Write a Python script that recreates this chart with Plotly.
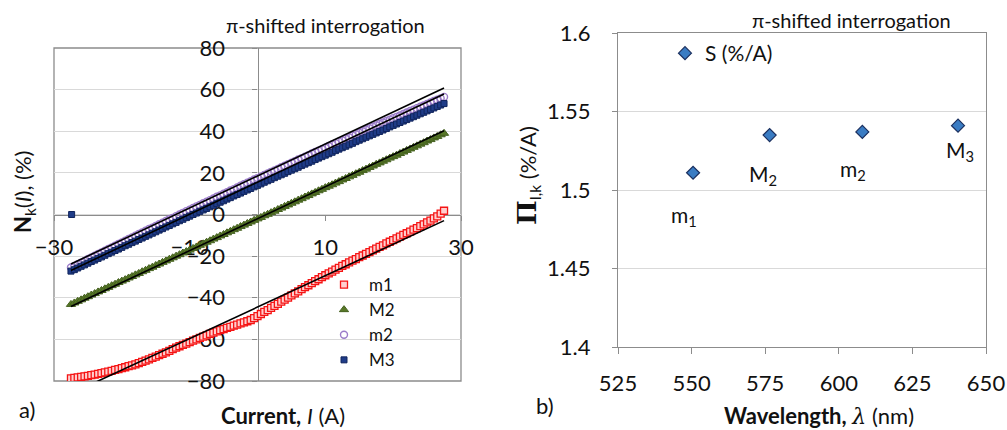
import plotly.graph_objects as go

# ---- panel a) normalised response versus bias current ----
current = [
    -27.5, -27.0, -26.5, -26.0, -25.5, -25.0, -24.5, -24.0, -23.5, -23.0,
    -22.5, -22.0, -21.5, -21.0, -20.5, -20.0, -19.5, -19.0, -18.5, -18.0,
    -17.5, -17.0, -16.5, -16.0, -15.5, -15.0, -14.5, -14.0, -13.5, -13.0,
    -12.5, -12.0, -11.5, -11.0, -10.5, -10.0, -9.5, -9.0, -8.5, -8.0,
    -7.5, -7.0, -6.5, -6.0, -5.5, -5.0, -4.5, -4.0, -3.5, -3.0,
    -2.5, -2.0, -1.5, -1.0, -0.5, 0.0, 0.5, 1.0, 1.5, 2.0,
    2.5, 3.0, 3.5, 4.0, 4.5, 5.0, 5.5, 6.0, 6.5, 7.0,
    7.5, 8.0, 8.5, 9.0, 9.5, 10.0, 10.5, 11.0, 11.5, 12.0,
    12.5, 13.0, 13.5, 14.0, 14.5, 15.0, 15.5, 16.0, 16.5, 17.0,
    17.5, 18.0, 18.5, 19.0, 19.5, 20.0, 20.5, 21.0, 21.5, 22.0,
    22.5, 23.0, 23.5, 24.0, 24.5, 25.0, 25.5, 26.0, 26.5, 27.0,
    27.5,
]

n_m1 = [
    -78.7, -78.5, -78.3, -78.0, -77.8, -77.5, -77.2, -76.9, -76.6, -76.2,
    -75.9, -75.5, -75.1, -74.7, -74.3, -73.8, -73.4, -72.9, -72.5, -72.0,
    -71.4, -70.8, -70.2, -69.6, -68.9, -68.3, -67.6, -66.9, -66.2, -65.5,
    -64.7, -64.0, -63.3, -62.6, -62.0, -61.3, -60.6, -60.0, -59.3, -58.7,
    -58.1, -57.4, -56.8, -56.2, -55.6, -55.1, -54.5, -54.0, -53.4, -52.9,
    -52.3, -51.8, -51.3, -50.7, -49.8, -48.8, -47.8, -46.8, -45.9, -44.9,
    -43.9, -42.9, -41.9, -40.9, -39.9, -38.9, -37.9, -36.9, -35.9, -34.9,
    -34.0, -33.0, -32.0, -31.1, -30.1, -29.2, -28.3, -27.4, -26.5, -25.6,
    -24.7, -23.9, -23.0, -22.2, -21.4, -20.5, -19.7, -18.9, -18.1, -17.2,
    -16.4, -15.6, -14.8, -13.9, -13.1, -12.3, -11.5, -10.6, -9.8, -9.0,
    -8.2, -7.3, -6.5, -5.6, -4.7, -3.8, -2.9, -1.9, -0.9, 0.4,
    1.8,
]

n_M2 = [
    -43.2, -42.5, -41.7, -41.0, -40.2, -39.5, -38.7, -38.0, -37.2, -36.5,
    -35.7, -35.0, -34.2, -33.5, -32.7, -32.0, -31.3, -30.5, -29.8, -29.0,
    -28.3, -27.5, -26.8, -26.0, -25.3, -24.5, -23.8, -23.0, -22.3, -21.5,
    -20.8, -20.0, -19.3, -18.5, -17.8, -17.1, -16.3, -15.6, -14.8, -14.1,
    -13.3, -12.6, -11.8, -11.1, -10.3, -9.6, -8.8, -8.1, -7.3, -6.6,
    -5.8, -5.1, -4.3, -3.6, -2.8, -2.1, -1.4, -0.6, 0.1, 0.9,
    1.6, 2.4, 3.1, 3.9, 4.6, 5.4, 6.1, 6.9, 7.6, 8.4,
    9.1, 9.9, 10.6, 11.4, 12.1, 12.9, 13.6, 14.3, 15.1, 15.8,
    16.6, 17.3, 18.1, 18.8, 19.6, 20.3, 21.1, 21.8, 22.6, 23.3,
    24.1, 24.8, 25.6, 26.3, 27.1, 27.8, 28.5, 29.3, 30.0, 30.8,
    31.5, 32.3, 33.0, 33.8, 34.5, 35.3, 36.0, 36.8, 37.5, 38.3,
    39.0,
]

n_m2 = [
    -25.5, -24.7, -23.9, -23.1, -22.3, -21.4, -20.6, -19.8, -19.0, -18.2,
    -17.4, -16.6, -15.8, -15.0, -14.2, -13.4, -12.6, -11.8, -11.0, -10.2,
    -9.4, -8.6, -7.8, -7.0, -6.3, -5.5, -4.7, -3.9, -3.1, -2.3,
    -1.6, -0.8, 0.0, 0.8, 1.6, 2.3, 3.1, 3.9, 4.6, 5.4,
    6.2, 6.9, 7.7, 8.5, 9.2, 10.0, 10.7, 11.5, 12.2, 13.0,
    13.8, 14.5, 15.3, 16.0, 16.8, 17.5, 18.2, 19.0, 19.7, 20.5,
    21.2, 21.9, 22.7, 23.4, 24.2, 24.9, 25.6, 26.4, 27.1, 27.8,
    28.5, 29.3, 30.0, 30.7, 31.4, 32.1, 32.9, 33.6, 34.3, 35.0,
    35.7, 36.4, 37.1, 37.9, 38.6, 39.3, 40.0, 40.7, 41.4, 42.1,
    42.8, 43.5, 44.2, 44.9, 45.6, 46.3, 46.9, 47.6, 48.3, 49.0,
    49.7, 50.4, 51.1, 51.8, 52.4, 53.1, 53.8, 54.5, 55.1, 55.8,
    56.5,
]

n_M3 = [
    -27.2, -26.5, -25.7, -24.9, -24.2, -23.4, -22.6, -21.9, -21.1, -20.4,
    -19.6, -18.8, -18.1, -17.3, -16.6, -15.8, -15.0, -14.3, -13.5, -12.8,
    -12.0, -11.3, -10.5, -9.8, -9.0, -8.3, -7.5, -6.8, -6.0, -5.3,
    -4.5, -3.8, -3.0, -2.3, -1.5, -0.8, 0.0, 0.7, 1.5, 2.2,
    2.9, 3.7, 4.4, 5.2, 5.9, 6.6, 7.4, 8.1, 8.9, 9.6,
    10.3, 11.1, 11.8, 12.5, 13.3, 14.0, 14.7, 15.5, 16.2, 16.9,
    17.7, 18.4, 19.1, 19.8, 20.6, 21.3, 22.0, 22.7, 23.5, 24.2,
    24.9, 25.6, 26.4, 27.1, 27.8, 28.5, 29.2, 29.9, 30.7, 31.4,
    32.1, 32.8, 33.5, 34.2, 35.0, 35.7, 36.4, 37.1, 37.8, 38.5,
    39.2, 39.9, 40.6, 41.3, 42.1, 42.8, 43.5, 44.2, 44.9, 45.6,
    46.3, 47.0, 47.7, 48.4, 49.1, 49.8, 50.5, 51.2, 51.9, 52.6,
    53.3,
]

# single spurious M3 reading at the start of the sweep
m3_glitch_current = [-27.4]
m3_glitch_value = [0.0]

# linear-fit intercepts (%); the slopes are the sensitivities of panel b)
fit_intercepts = [-44.5, -2.0, 18.5, 15.5]

# ---- panel b) sensitivity versus wavelength ----
wavelength = [550.5, 576.5, 608.0, 640.5]
sensitivity = [1.511, 1.535, 1.537, 1.541]
point_labels = ["m<sub>1</sub>", "M<sub>2</sub>", "m<sub>2</sub>", "M<sub>3</sub>"]
label_shift = [(-9, -43), (-7, -40), (-9, -38), (2, -25)]

series_names = ["m1", "M2", "m2", "M3"]

W, H = 1007, 430
FONT = "Lato"
SERIF = "DejaVu Serif"
GRID = "#D9D9D9"
AXIS = "#8C8C8C"


def px_x(p):
    return p / W


def px_y(p):
    return 1 - p / H


xa_dom = [px_x(54), px_x(461)]
ya_dom = [px_y(381), px_y(48)]
xb_dom = [px_x(618), px_x(986)]
yb_dom = [px_y(347), px_y(33)]

fig = go.Figure()

marker_styles = [
    dict(symbol="square", size=7, color="#FFCFCF", line=dict(color="#F51414", width=1.3)),
    dict(symbol="triangle-up", size=8, color="#587828", line=dict(color="#44601E", width=1)),
    dict(symbol="circle-open", size=7, color="#9B7CC9", line=dict(width=1.4)),
    dict(symbol="square", size=6, color="#1F3C88", line=dict(color="#10245C", width=1)),
]

series_values = [n_m1, n_M2, n_m2, n_M3]
for name, vals, mk in zip(series_names, series_values, marker_styles):
    xs = list(current)
    ys = list(vals)
    if name == "M3":
        xs = m3_glitch_current + xs
        ys = m3_glitch_value + ys
    fig.add_trace(go.Scatter(
        x=xs, y=ys, mode="markers", name=name, marker=mk,
        xaxis="x", yaxis="y", legend="legend",
    ))

# fitted straight lines drawn over the measured points
for b0, s in zip(fit_intercepts, sensitivity):
    xe = [current[0], current[-1]]
    fig.add_trace(go.Scatter(
        x=xe, y=[b0 + s * v for v in xe], mode="lines",
        line=dict(color="black", width=1.6), showlegend=False,
        xaxis="x", yaxis="y", hoverinfo="skip",
    ))

fig.add_trace(go.Scatter(
    x=wavelength, y=sensitivity, mode="markers", name="S (%/A)",
    marker=dict(symbol="diamond", size=10, color="#3A7CC3",
                line=dict(color="#1B2F5E", width=1.2)),
    xaxis="x2", yaxis="y2", legend="legend2",
))

tick_font = dict(family=FONT, size=22, color="#111111")

fig.update_layout(
    width=W, height=H,
    margin=dict(l=0, r=0, t=0, b=0, autoexpand=False),
    paper_bgcolor="white", plot_bgcolor="white",
    font=dict(family=FONT, color="#111111"),
    xaxis=dict(
        domain=xa_dom, range=[-30, 30], anchor="free", automargin=False,
        position=(ya_dom[0] + ya_dom[1]) / 2,
        tickvals=[-30, -10, 10, 30], showgrid=False, zeroline=False,
        showline=True, linecolor=AXIS, linewidth=1.3,
        ticks="outside", ticklen=5, tickcolor=AXIS, tickwidth=1.3,
        tickfont=tick_font, ticklabelstandoff=8, layer="below traces",
    ),
    yaxis=dict(
        domain=ya_dom, range=[-80, 80], anchor="free", automargin=False,
        position=(xa_dom[0] + xa_dom[1]) / 2,
        tickvals=[-80, -60, -40, -20, 0, 20, 40, 60, 80],
        showgrid=True, gridcolor=GRID, gridwidth=1.3, zeroline=False,
        showline=True, linecolor=AXIS, linewidth=1.3,
        ticks="outside", ticklen=5, tickcolor=AXIS, tickwidth=1.3,
        tickfont=tick_font, ticklabelstandoff=23, layer="below traces",
    ),
    xaxis2=dict(
        domain=xb_dom, range=[525, 650], anchor="y2", automargin=False,
        tickvals=[525, 550, 575, 600, 625, 650],
        showgrid=False, zeroline=False,
        showline=True, mirror=True, linecolor=AXIS, linewidth=1.3,
        ticks="outside", ticklen=6, tickcolor=AXIS, tickwidth=1.3,
        tickfont=tick_font, ticklabelstandoff=10,
    ),
    yaxis2=dict(
        domain=yb_dom, range=[1.4, 1.6], anchor="x2", automargin=False,
        tickvals=[1.4, 1.45, 1.5, 1.55, 1.6],
        ticktext=["1.4", "1.45", "1.5", "1.55", "1.6"],
        showgrid=True, gridcolor=GRID, gridwidth=1.3, zeroline=False,
        showline=True, mirror=True, linecolor=AXIS, linewidth=1.3,
        ticks="outside", ticklen=5, tickcolor=AXIS, tickwidth=1.3,
        tickfont=tick_font, ticklabelstandoff=17,
    ),
    legend=dict(
        x=px_x(319), y=px_y(267), xanchor="left", yanchor="top",
        bgcolor="rgba(0,0,0,0)", font=dict(family=FONT, size=17),
        tracegroupgap=0, itemwidth=40,
    ),
    legend2=dict(
        x=px_x(665), y=px_y(33), xanchor="left", yanchor="top",
        bgcolor="rgba(0,0,0,0)", font=dict(family=FONT, size=21),
        itemwidth=30,
    ),
    showlegend=True,
)

# frame around panel a)
fig.add_shape(type="rect", xref="x domain", yref="y domain", x0=0, x1=1, y0=0, y1=1,
              line=dict(color=AXIS, width=1.3), layer="below")

text_font = dict(family=FONT, size=20, color="#111111")
title_font = dict(family=FONT, size=22, color="#111111")

annotations = [
    dict(x=px_x(325), y=px_y(25), text="π-shifted interrogation", font=text_font),
    dict(x=px_x(851), y=px_y(20), text="π-shifted interrogation", font=text_font),
    dict(x=px_x(283), y=px_y(415), text="<b>Current,</b> <i>I</i> (A)", font=title_font),
    dict(x=px_x(819), y=px_y(415),
         text=f'<b>Wavelength,</b> <span style="font-family:{SERIF}"><i>λ</i></span> (nm)',
         font=title_font),
    dict(x=px_x(27), y=px_y(409), text="a)", font=title_font),
    dict(x=px_x(545), y=px_y(405), text="b)", font=title_font),
    dict(x=px_x(24), y=px_y(192), textangle=-90,
         text="<b>N</b><sub>k</sub>(<i>I</i>), (%)", font=title_font),
    dict(x=px_x(528), y=px_y(176), textangle=-90,
         text=f'<span style="font-family:{SERIF};font-size:26px"><b>Π</b></span><sub>I,k</sub> (%/A)',
         font=title_font),
]
for a in annotations:
    a.update(xref="paper", yref="paper", showarrow=False, xanchor="center", yanchor="middle")
    fig.add_annotation(**a)

for wl, s, lab, (dx, dy) in zip(wavelength, sensitivity, point_labels, label_shift):
    fig.add_annotation(x=wl, y=s, xref="x2", yref="y2", text=lab, showarrow=False,
                       xshift=dx, yshift=dy, font=dict(family=FONT, size=21, color="#111111"))

fig.write_html("out.html")
